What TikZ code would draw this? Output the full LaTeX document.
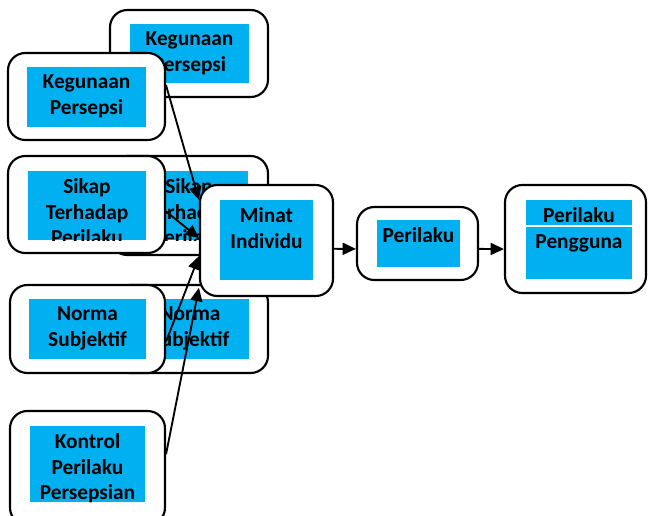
\documentclass[tikz,border=0pt]{standalone}
\usepackage{fontspec}
\setmainfont{Carlito}
\usetikzlibrary{arrows.meta,fit,calc}
\definecolor{biru}{HTML}{00B0F0}

\begin{document}
\begin{tikzpicture}[x=0.75pt, y=-0.75pt,
	luar/.style = {draw, line width=1.6pt, rounded corners=13pt, fill=white, inner sep=0pt},
	isi/.style = {fill=biru, inner sep=0pt},
	teks/.style = {anchor=north, inner sep=0pt, align=center, font=\bfseries\fontsize{16}{19}\selectfont},
	panah/.style = {-{Triangle[length=10pt, width=9pt]}, line width=1.4pt}]

	\clip (0,0) rectangle (648,515);

	% nama / kotak luar / kotak biru / teks
	\foreach \nm/\ka/\kb/\tx in {
		kgB/{(110,10) (268,97)}/{(130,24) (249,83)}/{Kegunaan\\Persepsi},
		skB/{(110,156) (268,255)}/{(130,171) (248,240)}/{Sikap\\Terhadap\\Perilaku},
		nmB/{(112,285) (268,373)}/{(131,299) (249,359)}/{Norma\\Subjektif},
		kgA/{(8,53) (165,140)}/{(27,67) (146,127)}/{Kegunaan\\Persepsi},
		skA/{(8,156) (165,253)}/{(28,171) (146,240)}/{Sikap\\Terhadap\\Perilaku},
		nmA/{(10,285) (165,373)}/{(29,299) (146,359)}/{Norma\\Subjektif},
		kt/{(10,411) (165,525)}/{(30,426) (145,502)}/{Kontrol\\Perilaku\\Persepsian},
		mi/{(200,185) (333,296)}/{(220,200) (313,280)}/{Minat\\Individu},
		pr/{(357,207) (478,280)}/{(377,220) (460,267)}/{Perilaku},
		pp/{(505,185) (646,293)}/{(526,200) (632,279)}/{Perilaku\\Pengguna}}
	{
		\node[luar, fit/.expanded=\ka] (\nm) {};
		\node[isi, fit/.expanded=\kb] (\nm-isi) {};
		\begin{scope}
			\clip (\nm-isi.south west) rectangle (\nm-isi.north east);
			\node[teks] (\nm-teks) at ([yshift=-6pt]\nm-isi.north) {\tx};
		\end{scope}
	}
	\draw[white, line width=1.2pt] ($(pp-isi.north west)!0.33!(pp-isi.south west)$) -- ($(pp-isi.north east)!0.33!(pp-isi.south east)$);

	\draw[panah] (kgA.8) -- (mi.149);
	\draw[panah] (skA.-5) -- (mi.178);
	\draw[panah] (nmA.-9) -- (mi.193);
	\draw[panah] (kt.10) -- (mi.215);
	\draw[panah] (mi.-7) -- (pr.185);
	\draw[panah] (pr.-5) -- (pp.188);
\end{tikzpicture}
\end{document}
